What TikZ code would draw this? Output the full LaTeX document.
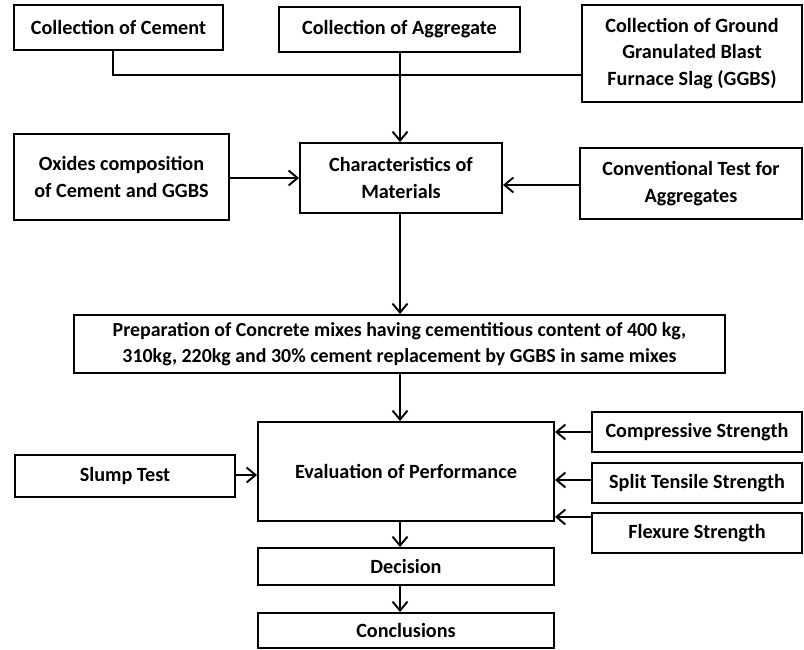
\documentclass[tikz,border=0pt]{standalone}
\usepackage{fontspec}
\setmainfont{Carlito}
\usetikzlibrary{arrows.meta}
\begin{document}
\begin{tikzpicture}[x=1pt,y=-1pt,
  box/.style={draw=black, line width=1.9pt, align=center, inner sep=0pt,
    font=\fontsize{20.2}{26.5}\selectfont\bfseries},
  arr/.style={line width=1.9pt, -{Straight Barb[length=9pt,width=15pt,line width=1.9pt]}},
  ln/.style={line width=1.9pt}]
\useasboundingbox (0,0) rectangle (804,650);
\fill[white] (0,0) rectangle (804,650);
\node[box, minimum width=209pt, minimum height=45pt] (cement) at (118.5,27.5) {Collection of Cement};
\node[box, minimum width=241pt, minimum height=45pt] (aggr) at (399.5,29.5) {Collection of Aggregate};
\node[box, minimum width=220pt, minimum height=97pt] (ggbs) at (692,53.5) {Collection of Ground\\Granulated Blast\\Furnace Slag (GGBS)};
\node[box, minimum width=215pt, minimum height=86pt] (oxides) at (121.5,177) {Oxides composition\\of Cement and GGBS};
\node[box, minimum width=202pt, minimum height=70pt] (char) at (401,178) {Characteristics of\\Materials};
\node[box, minimum width=222pt, minimum height=71pt] (conv) at (691,183.5) {Conventional Test for\\Aggregates};
\node[box, minimum width=651pt, minimum height=58pt, font=\fontsize{19.9}{26.5}\selectfont\bfseries] (prep) at (399.5,344) {Preparation of Concrete mixes having cementitious content of 400 kg,\\310kg, 220kg and 30\% cement replacement by GGBS in same mixes};
\node[box, minimum width=220pt, minimum height=42pt] (slump) at (125,476) {Slump Test};
\node[box, minimum width=296pt, minimum height=99pt] (eval) at (406,471.5) {Evaluation of Performance};
\node[box, minimum width=210pt, minimum height=40pt] (comp) at (697,432) {Compressive Strength};
\node[box, minimum width=210pt, minimum height=40pt] (split) at (697,483) {Split Tensile Strength};
\node[box, minimum width=210pt, minimum height=40pt] (flex) at (697,533) {Flexure Strength};
\node[box, minimum width=296pt, minimum height=37pt] (dec) at (406,566.5) {Decision};
\node[box, minimum width=296pt, minimum height=35pt] (concl) at (406,630.5) {Conclusions};
% connectors
\draw[ln] (cement.south -| 113,0) |- (ggbs.west |- 0,75);
\draw[arr] (aggr.south -| 400,0) -- (char.north -| 400,0);
\draw[arr] (oxides.east |- 0,178) -- (char.west |- 0,178);
\draw[arr] (conv.west |- 0,185) -- (char.east |- 0,185);
\draw[arr] (char.south -| 400,0) -- (prep.north -| 400,0);
\draw[arr] (prep.south -| 400,0) -- (eval.north -| 400,0);
\draw[arr] (slump.east |- 0,475) -- (eval.west |- 0,475);
\draw[arr] (comp.west |- 0,432) -- (eval.east |- 0,432);
\draw[arr] (split.west |- 0,480) -- (eval.east |- 0,480);
\draw[arr] (flex.west |- 0,517) -- (eval.east |- 0,517);
\draw[arr] (eval.south -| 400,0) -- (dec.north -| 400,0);
\draw[arr] (dec.south -| 400,0) -- (concl.north -| 400,0);
\end{tikzpicture}
\end{document}
